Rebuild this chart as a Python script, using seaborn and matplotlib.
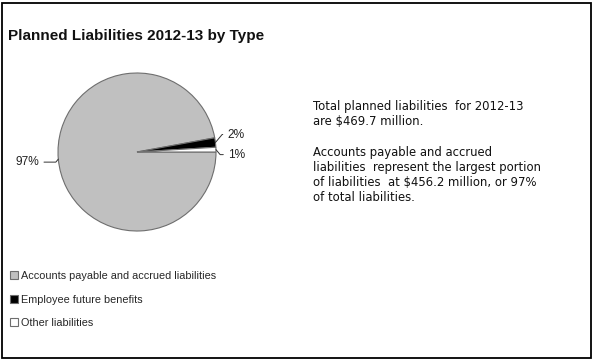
import matplotlib
matplotlib.use("Agg")
import matplotlib.pyplot as plt
import seaborn as sns
import numpy as np
from matplotlib.patches import Rectangle

categories = ["Accounts payable and accrued liabilities", "Employee future benefits", "Other liabilities"]
values = [456.2, 9.0, 4.5]          # $ millions
pct_labels = ["97%", "2%", "1%"]
colors = ["#c0c0c0", "#000000", "#ffffff"]
title = "Planned Liabilities 2012-13 by Type"
note = ("Total planned liabilities  for 2012-13\nare $469.7 million.\n\n"
        "Accounts payable and accrued\nliabilities  represent the largest portion\n"
        "of liabilities  at $456.2 million, or 97%\nof total liabilities.")

sns.set_style("white")
plt.rcParams['font.family'] = ['Liberation Sans', 'DejaVu Sans']

W, H = 593, 359
fig = plt.figure(figsize=(W / 100, H / 100), dpi=100)
fig.patch.set_facecolor("white")

# pie axes
cx, cy, r = 137, 152, 79
ax = fig.add_axes([(cx - r) / W, 1 - (cy + r) / H, 2 * r / W, 2 * r / H])
wedges, _ = ax.pie(values, colors=colors, startangle=0, counterclock=False,
                   wedgeprops=dict(edgecolor="#6e6e6e", linewidth=0.8))
ax.set_xlim(-1, 1)
ax.set_ylim(-1, 1)
ax.set_aspect("equal")
ax.axis("off")

# label offsets (pixels) per slice
offsets = [(-19, -3), (12, 8), (12, -5)]
for w, lab, (dx, dy) in zip(wedges, pct_labels, offsets):
    th = np.deg2rad((w.theta1 + w.theta2) / 2)
    x, y = np.cos(th), np.sin(th)
    ha = "right" if x < 0 else "left"
    angB = 50 * np.sign(dy) * np.sign(x)
    ax.annotate(lab, xy=(x, y), xytext=(dx, dy), textcoords="offset pixels",
                ha=ha, va="center", fontsize=8.6, color="#222222",
                arrowprops=dict(arrowstyle="-", color="#333333", lw=0.7,
                                shrinkA=1, shrinkB=0,
                                connectionstyle="angle,angleA=0,angleB=%d,rad=0" % angB))

fig.text(8 / W, 1 - 36 / H, title, fontsize=11, fontweight="bold", ha="left", va="center",
         color="#111111")

fig.text(313 / W, 1 - 100 / H, note, fontsize=8.4, ha="left", va="top", linespacing=1.22,
         color="#111111", family=['DejaVu Sans'])

fig.legend(wedges, categories, loc="upper left", bbox_to_anchor=(10 / W, 1 - 271 / H),
           frameon=False, handlelength=0.75, handleheight=0.75,
           handletextpad=0.3, labelspacing=1.25, borderaxespad=0, borderpad=0,
           prop=dict(family=['Liberation Sans'], size=7.8))

fig.patches.append(Rectangle((1.5 / W, 1.5 / H), (W - 4) / W, (H - 4) / H,
                             transform=fig.transFigure, fill=False, edgecolor="black",
                             linewidth=1.3))

fig.savefig("out.png", dpi=100)
